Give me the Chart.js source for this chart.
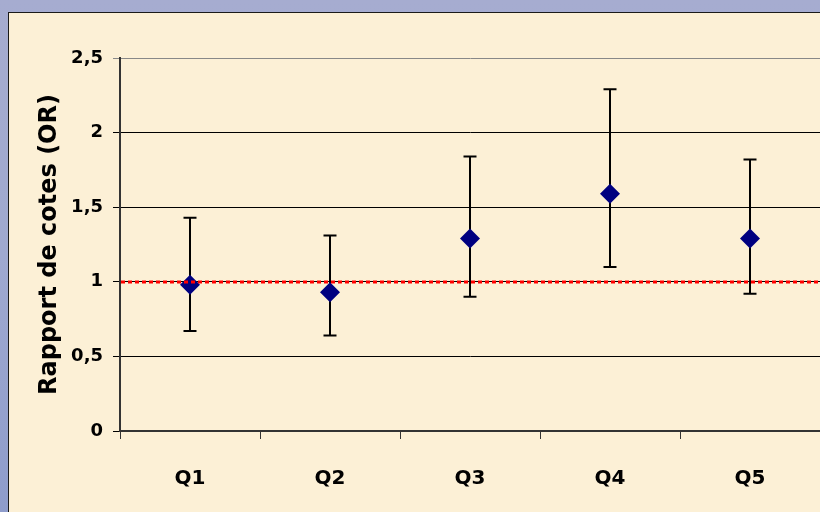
<!DOCTYPE html>
<html>
<head>
<meta charset="utf-8">
<script src="https://cdn.jsdelivr.net/npm/chart.js@4"></script>
<style>
  html, body { margin: 0; padding: 0; }
  body {
    width: 820px; height: 512px; overflow: hidden; position: relative;
    background: linear-gradient(to bottom, #a6acd0 0%, #9fa9d0 50%, #8e9ccb 100%);
  }
  #panel {
    position: absolute; left: 8px; top: 12px; right: 0; bottom: 0;
    background: #fcf0d6;
    border-left: 1px solid #1a1a1a; border-top: 1px solid #1a1a1a;
  }
  #wrap { position: absolute; left: 0; top: 0; width: 830px; height: 512px; }
</style>
</head>
<body>
<div id="panel"></div>
<div id="wrap"><canvas id="c" width="830" height="512"></canvas></div>
<script>
// ---- data ----
const categories = ['Q1', 'Q2', 'Q3', 'Q4', 'Q5'];
const orValues   = [0.98, 0.93, 1.29, 1.59, 1.29];
const lowerCI    = [0.67, 0.64, 0.90, 1.10, 0.92];
const upperCI    = [1.43, 1.31, 1.84, 2.29, 1.82];
const yMin = 0, yMax = 2.5, yStep = 0.5;
const referenceValue = 1;
const yTitle = 'Rapport de cotes (OR)';

const FONT = "'DejaVu Sans', sans-serif";

const errorBars = {
  id: 'errorBars',
  beforeDatasetsDraw(chart) {
    const ctx = chart.ctx;
    const meta = chart.getDatasetMeta(0);
    const ys = chart.scales.y;
    ctx.save();
    ctx.strokeStyle = '#000';
    ctx.lineWidth = 2;
    meta.data.forEach((pt, i) => {
      const x = Math.round(pt.x);
      const yl = ys.getPixelForValue(lowerCI[i]);
      const yu = ys.getPixelForValue(upperCI[i]);
      ctx.beginPath();
      ctx.moveTo(x, yl); ctx.lineTo(x, yu);
      ctx.moveTo(x - 6.5, yl); ctx.lineTo(x + 6.5, yl);
      ctx.moveTo(x - 6.5, yu); ctx.lineTo(x + 6.5, yu);
      ctx.stroke();
    });
    ctx.restore();
  }
};

const refLine = {
  id: 'refLine',
  afterDatasetsDraw(chart) {
    const ctx = chart.ctx;
    const a = chart.chartArea;
    const y = Math.round(chart.scales.y.getPixelForValue(referenceValue));
    ctx.save();
    ctx.strokeStyle = '#ff0000';
    ctx.lineWidth = 3;
    ctx.setLineDash([4, 3]);
    ctx.beginPath();
    ctx.moveTo(a.left + 1, y); ctx.lineTo(a.right, y);
    ctx.stroke();
    ctx.restore();
  }
};

new Chart(document.getElementById('c'), {
  type: 'line',
  data: {
    labels: categories,
    datasets: [{
      data: orValues,
      showLine: false,
      pointStyle: 'rectRot',
      pointRadius: 10,
      pointHoverRadius: 10,
      backgroundColor: '#000080',
      borderColor: '#000080',
      borderWidth: 0,
      clip: false
    }]
  },
  options: {
    responsive: false,
    animation: false,
    events: [],
    layout: { padding: { left: 35, top: 58, right: 0, bottom: 0 } },
    plugins: { legend: { display: false }, tooltip: { enabled: false } },
    scales: {
      x: {
        type: 'category',
        offset: true,
        grid: {
          offset: true,
          drawOnChartArea: false,
          drawTicks: true,
          tickLength: 8,
          color: '#333',
          lineWidth: 1
        },
        border: { display: true, color: '#333', width: 2 },
        ticks: {
          color: '#000',
          padding: 28,
          font: { family: FONT, size: 20, weight: 'bold' }
        },
        afterFit(scale) { scale.height = 81; }
      },
      y: {
        min: yMin, max: yMax,
        grid: {
          drawTicks: true,
          tickLength: 7,
          lineWidth: 1,
          color: (c) => (c.tick && c.tick.value === yMax) ? '#888' : '#000'
        },
        border: { display: true, color: '#333', width: 2 },
        ticks: {
          stepSize: yStep,
          color: '#000',
          padding: 10,
          font: { family: FONT, size: 18, weight: 'bold' },
          callback: (v) => String(v).replace('.', ',')
        },
        title: {
          display: true,
          text: yTitle,
          color: '#000',
          padding: 0,
          font: { family: FONT, size: 24, weight: 'bold' }
        },
        afterFit(scale) { scale.width = 85; }
      }
    }
  },
  plugins: [errorBars, refLine]
});
</script>
</body>
</html>
